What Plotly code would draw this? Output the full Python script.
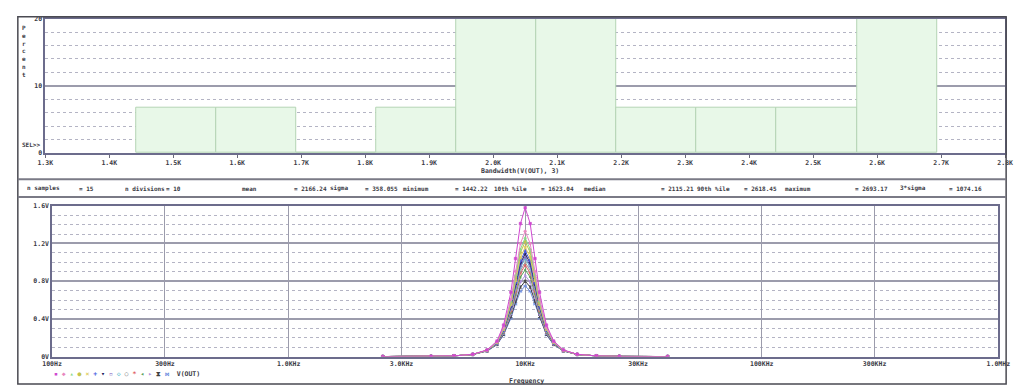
import numpy as np
import plotly.graph_objects as go

W, H = 1024, 390

# ---------------- Monte Carlo results: Bandwidth(V(OUT), 3) in Hz ----------------
bandwidth_hz = [1442.22, 1623.04, 1890.0, 1958.0, 2010.0, 2055.0, 2085.0, 2115.21,
                2160.0, 2275.0, 2395.0, 2518.0, 2618.45, 2655.0, 2693.17]
n_divisions = 10

hist_ticks = [1300, 1400, 1500, 1600, 1700, 1800, 1900, 2000, 2100, 2200, 2300,
              2400, 2500, 2600, 2700, 2800]
hist_ticktext = ["1.3K", "1.4K", "1.5K", "1.6K", "1.7K", "1.8K", "1.9K", "2.0K",
                 "2.1K", "2.2K", "2.3K", "2.4K", "2.5K", "2.6K", "2.7K", "2.8K"]
percent_ticks = [0, 10, 20]
percent_ticktext = ["0", "10", "20"]

stat_names = ["n samples", "n divisions", "mean", "sigma", "minimum", "10th %ile",
              "median", "90th %ile", "maximum", "3*sigma"]
stat_values = ["15", "10", "2166.24", "358.055", "1442.22", "1623.04", "2115.21",
               "2618.45", "2693.17", "1074.16"]

# ---------------- AC sweep of V(OUT) for each Monte Carlo run ----------------
freq_hz = [2500, 4000, 5000, 6000, 6900, 7600, 8100, 8700, 9100, 9550, 10000,
           10500, 11000, 11500, 12300, 13200, 14500, 16600, 20000, 25000, 40000]

vout_runs = [
    [0.0006, 0.0027, 0.0080, 0.0245, 0.0710, 0.165, 0.334, 0.682, 1.040, 1.411, 1.58,
     1.411, 1.040, 0.682, 0.334, 0.165, 0.0710, 0.0245, 0.0080, 0.0027, 0.0006],
    [0.0006, 0.0027, 0.0079, 0.0240, 0.0680, 0.156, 0.308, 0.608, 0.904, 1.199, 1.33,
     1.199, 0.904, 0.608, 0.308, 0.156, 0.0680, 0.0240, 0.0079, 0.0027, 0.0006],
    [0.0006, 0.0027, 0.0079, 0.0238, 0.0676, 0.153, 0.300, 0.586, 0.864, 1.139, 1.26,
     1.139, 0.864, 0.586, 0.300, 0.153, 0.0676, 0.0238, 0.0079, 0.0027, 0.0006],
    [0.0006, 0.0027, 0.0078, 0.0237, 0.0670, 0.152, 0.295, 0.573, 0.841, 1.104, 1.22,
     1.104, 0.841, 0.573, 0.295, 0.152, 0.0670, 0.0237, 0.0078, 0.0027, 0.0006],
    [0.0006, 0.0027, 0.0078, 0.0235, 0.0663, 0.149, 0.288, 0.553, 0.807, 1.053, 1.16,
     1.053, 0.807, 0.553, 0.288, 0.149, 0.0663, 0.0235, 0.0078, 0.0027, 0.0006],
    [0.0006, 0.0027, 0.0078, 0.0234, 0.0657, 0.147, 0.283, 0.540, 0.784, 1.018, 1.12,
     1.018, 0.784, 0.540, 0.283, 0.147, 0.0657, 0.0234, 0.0078, 0.0027, 0.0006],
    [0.0006, 0.0026, 0.0078, 0.0233, 0.0653, 0.146, 0.279, 0.530, 0.766, 0.992, 1.09,
     0.992, 0.766, 0.530, 0.279, 0.146, 0.0653, 0.0233, 0.0078, 0.0026, 0.0006],
    [0.0006, 0.0026, 0.0077, 0.0232, 0.0648, 0.144, 0.275, 0.520, 0.748, 0.966, 1.06,
     0.966, 0.748, 0.520, 0.275, 0.144, 0.0648, 0.0232, 0.0077, 0.0026, 0.0006],
    [0.0006, 0.0026, 0.0077, 0.0232, 0.0645, 0.143, 0.272, 0.513, 0.736, 0.949, 1.04,
     0.949, 0.736, 0.513, 0.272, 0.143, 0.0645, 0.0232, 0.0077, 0.0026, 0.0006],
    [0.0006, 0.0026, 0.0077, 0.0230, 0.0639, 0.141, 0.267, 0.499, 0.712, 0.914, 1.00,
     0.914, 0.712, 0.499, 0.267, 0.141, 0.0639, 0.0230, 0.0077, 0.0026, 0.0006],
    [0.0006, 0.0026, 0.0077, 0.0229, 0.0634, 0.139, 0.263, 0.488, 0.694, 0.887, 0.97,
     0.887, 0.694, 0.488, 0.263, 0.139, 0.0634, 0.0229, 0.0077, 0.0026, 0.0006],
    [0.0006, 0.0026, 0.0076, 0.0227, 0.0625, 0.137, 0.256, 0.470, 0.663, 0.844, 0.92,
     0.844, 0.663, 0.470, 0.256, 0.137, 0.0625, 0.0227, 0.0076, 0.0026, 0.0006],
    [0.0006, 0.0026, 0.0076, 0.0225, 0.0614, 0.133, 0.247, 0.448, 0.627, 0.791, 0.86,
     0.791, 0.627, 0.448, 0.247, 0.133, 0.0614, 0.0225, 0.0076, 0.0026, 0.0006],
    [0.0005, 0.0026, 0.0075, 0.0222, 0.0603, 0.129, 0.237, 0.425, 0.589, 0.738, 0.80,
     0.738, 0.589, 0.425, 0.237, 0.129, 0.0603, 0.0222, 0.0075, 0.0026, 0.0005],
    [0.0005, 0.0026, 0.0075, 0.0220, 0.0592, 0.126, 0.229, 0.406, 0.557, 0.693, 0.75,
     0.693, 0.557, 0.406, 0.229, 0.126, 0.0592, 0.0220, 0.0075, 0.0026, 0.0005],
]

freq_ticks = [100, 300, 1000, 3000, 10000, 30000, 100000, 300000, 1000000]
freq_ticktext = ["100Hz", "300Hz", "1.0KHz", "3.0KHz", "10KHz", "30KHz",
                 "100KHz", "300KHz", "1.0MHz"]
volt_ticks = [0, 0.4, 0.8, 1.2, 1.6]
volt_ticktext = ["0V", "0.4V", "0.8V", "1.2V", "1.6V"]

# ---------------- styling ----------------
trace_colors = ["#d048d0", "#e888c0", "#88d888", "#c4c44c", "#e0cc60", "#4a5ae0",
                "#20205c", "#8060c0", "#58bccc", "#a0a0a0", "#e06060", "#58a058",
                "#b090e0", "#404040", "#7090e0"]
trace_symbols = ["square", "diamond", "triangle-up", "circle", "x", "cross",
                 "triangle-down", "square-open", "diamond-open", "circle-open",
                 "star", "triangle-left", "triangle-right", "hourglass", "bowtie"]
legend_glyphs = ["▪", "◆", "▴", "●", "×", "+", "▾", "▫", "◇", "○", "*", "◂", "▸",
                 "⧗", "⋈"]

FONT = "DejaVu Sans Mono"
TXT = "#3a3a44"
GRID = "#9c9cac"
MINOR = "#b4b4c4"
AXIS = "#6c6c8c"


def px(x):
    return x / W


def py(y):
    return 1 - y / H


fig = go.Figure()

# ---- histogram (percent of samples per division) ----
counts, edges = np.histogram(bandwidth_hz, bins=n_divisions)
percent = counts / len(bandwidth_hz) * 100.0
centers = (edges[:-1] + edges[1:]) / 2
widths = np.diff(edges)
fig.add_trace(go.Bar(
    x=centers, y=percent, width=widths, xaxis="x", yaxis="y",
    marker=dict(color="#e8f8e8", line=dict(color="#b4d4b4", width=1)),
    showlegend=False, hoverinfo="skip",
))

# ---- V(OUT) traces (drawn widest first so the tallest peaks stay on top) ----
for i in reversed(range(len(vout_runs))):
    fig.add_trace(go.Scatter(
        x=freq_hz, y=vout_runs[i], xaxis="x2", yaxis="y2", mode="lines+markers",
        line=dict(color=trace_colors[i], width=1),
        marker=dict(symbol=trace_symbols[i], size=2.5, color=trace_colors[i],
                    line=dict(width=0.6, color=trace_colors[i])),
        showlegend=False, hoverinfo="skip",
    ))

tickfont = dict(family=FONT, size=6.5, color=TXT, weight="bold")

fig.update_layout(
    width=W, height=H, margin=dict(l=0, r=0, t=0, b=0),
    paper_bgcolor="white", plot_bgcolor="white", bargap=0,
    xaxis=dict(
        domain=[px(36), px(1017)], range=[1300, 2800], anchor="y",
        tickmode="array", tickvals=hist_ticks, ticktext=hist_ticktext,
        tickfont=tickfont, ticks="outside", ticklen=3, tickcolor="#6a6a7a",
        showgrid=False, zeroline=False, showline=True, linecolor=AXIS,
        linewidth=1.5, mirror=True,
    ),
    yaxis=dict(
        domain=[py(152), py(15)], range=[0, 20], anchor="x",
        tickmode="array", tickvals=percent_ticks, ticktext=percent_ticktext,
        tickfont=tickfont, ticks="", showgrid=True, gridcolor=GRID,
        gridwidth=1.5, zeroline=False, showline=True, linecolor=AXIS,
        linewidth=1.5, mirror=True,
        minor=dict(dtick=2, showgrid=True, gridcolor=MINOR, griddash="dot",
                   gridwidth=1),
    ),
    xaxis2=dict(
        domain=[px(43), px(1010)], type="log", range=[2, 6], anchor="y2",
        tickmode="array", tickvals=freq_ticks, ticktext=freq_ticktext,
        tickfont=tickfont, ticks="", showgrid=True, gridcolor=GRID,
        gridwidth=1, zeroline=False, showline=True, linecolor=AXIS,
        linewidth=1.5, mirror=True,
    ),
    yaxis2=dict(
        domain=[py(360), py(206)], range=[0, 1.6], anchor="x2",
        tickmode="array", tickvals=volt_ticks, ticktext=volt_ticktext,
        tickfont=tickfont, ticks="", showgrid=True, gridcolor=GRID,
        gridwidth=1.5, zeroline=False, showline=True, linecolor=AXIS,
        linewidth=1.5, mirror=True,
        minor=dict(dtick=0.1, showgrid=True, gridcolor=MINOR, griddash="dot",
                   gridwidth=1),
    ),
)

# ---- frames around the panels and the statistics strip ----
shapes = [
    dict(type="rect", xref="paper", yref="paper", x0=px(8), x1=px(1018),
         y0=py(388), y1=py(13), line=dict(color="#4a4a52", width=1.5)),
    dict(type="line", xref="paper", yref="paper", x0=px(8), x1=px(1018),
         y0=py(179), y1=py(179), line=dict(color="#7a7a86", width=2)),
    dict(type="line", xref="paper", yref="paper", x0=px(8), x1=px(1018),
         y0=py(197), y1=py(197), line=dict(color="#7a7a86", width=2)),
]
fig.update_layout(shapes=shapes)

ann_font = dict(family=FONT, size=6.5, color=TXT, weight="bold")
annotations = []


def label(text, x, y, anchor="left", size=6.5):
    f = dict(ann_font)
    f["size"] = size
    annotations.append(dict(text=text, x=px(x), y=py(y), xref="paper",
                            yref="paper", xanchor=anchor, yanchor="middle",
                            showarrow=False, font=f))


# y-axis caption of the histogram, letters stacked vertically
label("<br>".join("Percent"), 14, 48, anchor="center", size=6)
label("SEL>>", 10, 143, size=6)
label("Bandwidth(V(OUT), 3)", 521, 170, anchor="center")
label("Frequency", 528, 385, anchor="center")

# statistics strip
stat_name_x = [15, 115, 235, 325, 400, 493, 585, 700, 790, 907]
stat_value_x = [68, 157, 288, 361, 453, 541, 663, 748, 861, 958]
for name, val, xn, xv in zip(stat_names, stat_values, stat_name_x, stat_value_x):
    label(name, xn, 188, size=6)
    label("= " + val, xv, 188, size=6)

# trace legend: one glyph per run followed by the expression
legend_text = " ".join(
    f"<span style='color:{c}'>{g}</span>" for c, g in zip(trace_colors, legend_glyphs)
) + "  V(OUT)"
label(legend_text, 43, 378)

fig.update_layout(annotations=annotations)

fig.write_html("out.html")
